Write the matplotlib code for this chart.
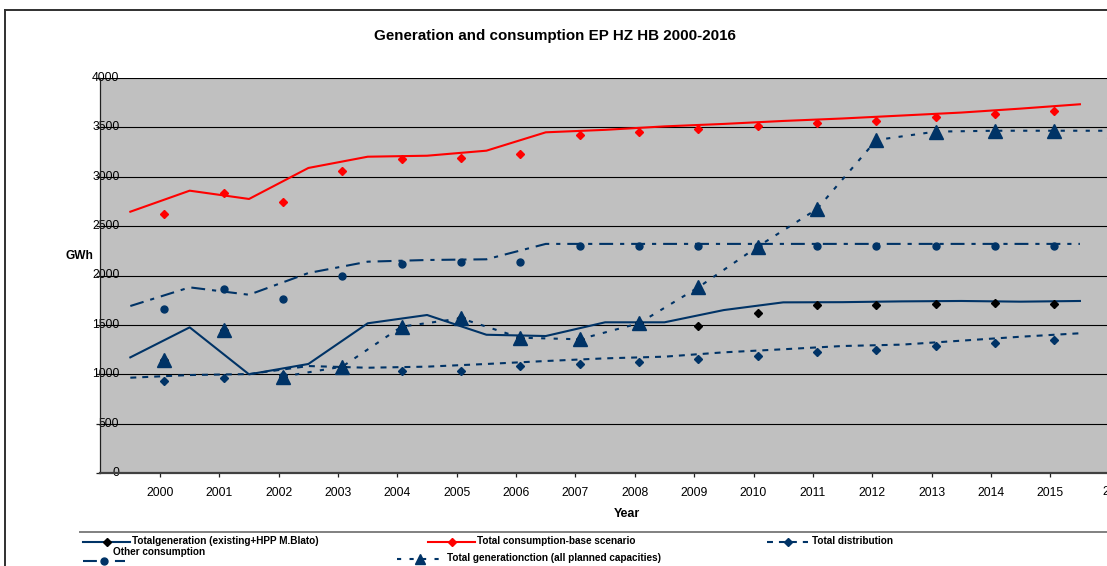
import matplotlib
matplotlib.use("Agg")
import matplotlib.pyplot as plt
import numpy as np

plt.rcParams['font.family'] = ['Liberation Sans', 'DejaVu Sans']
plt.rcParams['lines.scale_dashes'] = False

# ---------------- data ----------------
years = [2000, 2001, 2002, 2003, 2004, 2005, 2006, 2007, 2008,
         2009, 2010, 2011, 2012, 2013, 2014, 2015, 2016]

# line traces (vertices sit half a category left of each year)
gen_line = [1171, 1475, 999, 1104, 1516, 1600, 1400, 1387, 1526,
            1526, 1650, 1728, 1730, 1738, 1742, 1735, 1742]
cons_line = [2646, 2859, 2775, 3089, 3203, 3213, 3264, 3450, 3475,
             3510, 3535, 3565, 3590, 3620, 3650, 3690, 3734]
dist_line = [965, 992, 1002, 1083, 1066, 1077, 1104, 1134, 1161,
             1178, 1222, 1253, 1286, 1300, 1340, 1380, 1415]
other_line = [1691, 1880, 1805, 2025, 2140, 2157, 2164, 2320, 2320,
              2320, 2320, 2320, 2320, 2320, 2320, 2320, 2320]

# point values per year (2000-2015 visible)
gen_pts = [1144, 1448, 976, 1077, 1482, 1566, 1370, 1354, 1516,
           1492, 1617, 1698, 1698, 1708, 1718, 1708]
cons_pts = [2620, 2832, 2747, 3061, 3180, 3190, 3227, 3423, 3450,
            3484, 3514, 3541, 3568, 3605, 3632, 3669]
dist_pts = [935, 965, 990, 1050, 1036, 1036, 1087, 1100, 1127,
            1158, 1188, 1222, 1249, 1286, 1313, 1350]
other_pts = [1664, 1860, 1765, 1998, 2120, 2133, 2133, 2302, 2302,
             2302, 2302, 2302, 2302, 2302, 2302, 2302]
planned_pts = [1144, 1448, 976, 1077, 1482, 1566, 1370, 1354, 1516,
               1880, 2292, 2673, 3372, 3457, 3466, 3466, 3466]
planned_line_start = 2

title = "Generation and consumption EP HZ HB 2000-2016"
ylabel = "GWh"
xlabel = "Year"
legend_labels = ["Totalgeneration (existing+HPP M.Blato)",
                 "Total consumption-base scenario",
                 "Total distribution",
                 "Other consumption",
                 "Total generationction (all planned capacities)"]

NAVY = '#003366'
RED = '#FF0000'
BG = '#C0C0C0'

W, H = 1107, 566
fig = plt.figure(figsize=(W / 100, H / 100), dpi=100)

# axes geometry in pixels
L_px, T_px, B_px = 100, 78, 473
x0_px, step_px = 160.0, 59.35
xmin = (L_px - x0_px) / step_px
xmax = (W - x0_px) / step_px
ax = fig.add_axes([L_px / W, 1 - B_px / H, (W - L_px) / W, (B_px - T_px) / H])
ax.set_facecolor(BG)
ax.set_xlim(xmin, xmax)
ax.set_ylim(0, 4000)

n = len(years)
xi = np.arange(n)
x_line = xi - 0.5
mo = 0.07  # marker offset
x_pts = np.arange(len(gen_pts)) + mo

lw = 1.5
# lines
ax.plot(x_line, gen_line, color=NAVY, lw=lw, zorder=3)
ax.plot(x_line, cons_line, color=RED, lw=lw, zorder=3)
ax.plot(x_line, dist_line, color=NAVY, lw=lw, dashes=(4.3, 4.3), zorder=3)
ax.plot(x_line, other_line, color=NAVY, lw=lw, dashes=(10, 5, 3, 5), zorder=3)
xp = np.arange(len(planned_pts)) + mo
ax.plot(xp[planned_line_start:], planned_pts[planned_line_start:], color=NAVY,
        lw=lw, dashes=(3, 6), zorder=3)

# markers
ax.plot(x_pts, gen_pts, ls='none', marker='D', ms=4.5, color='black', zorder=4)
ax.plot(np.arange(len(cons_pts)) + mo, cons_pts, ls='none', marker='D', ms=4.5,
        color=RED, zorder=4)
ax.plot(np.arange(len(dist_pts)) + mo, dist_pts, ls='none', marker='D', ms=4.5,
        color=NAVY, zorder=4)
ax.plot(np.arange(len(other_pts)) + mo, other_pts, ls='none', marker='o', ms=5,
        color=NAVY, zorder=4)
ax.plot(xp, planned_pts, ls='none', marker='^', ms=10, color=NAVY, zorder=5)

# grid & axes styling
ax.set_yticks(np.arange(0, 4001, 500))
ax.yaxis.grid(True, color='black', lw=0.8)
ax.set_axisbelow(True)
for s in ['top', 'right']:
    ax.spines[s].set_visible(False)
ax.spines['left'].set_color('#202020')
ax.spines['left'].set_linewidth(0.9)
ax.spines['bottom'].set_color('#404040')
ax.spines['bottom'].set_linewidth(1.6)

ax.set_xticks(xi[:16])
ax.set_xticklabels([str(y) for y in years[:16]])
ax.tick_params(axis='x', direction='out', length=3, width=0.9, color='#202020',
               pad=7, labelsize=8.7)
ax.tick_params(axis='y', direction='out', length=3, width=0.9, color='#202020',
               pad=-17, labelsize=8.7)
for lab in ax.get_yticklabels():
    lab.set_va('center')
ax.text(16.1, -(3 + 9.7) / (B_px - T_px), str(years[16]),
        transform=ax.get_xaxis_transform(),
        ha='center', va='top', fontsize=8.7, clip_on=False)

# overlay for text and frame
ov = fig.add_axes([0, 0, 1, 1], zorder=10)
ov.set_xlim(0, W)
ov.set_ylim(H, 0)
ov.axis('off')
ov.patch.set_alpha(0)

ov.text(555, 36, title, ha='center', va='center', fontsize=10.9, fontweight='bold')
ov.text(79, 256, ylabel, ha='center', va='center', fontsize=8.6, fontweight='bold')
ov.text(627, 514, xlabel, ha='center', va='center', fontsize=9, fontweight='bold')

# chart frame
ov.plot([4.5, 4.5], [H, 9.5], color='#303030', lw=1.4)
ov.plot([4.5, W], [9.5, 9.5], color='#303030', lw=1.4)
# legend frame
ov.plot([80, W], [531.5, 531.5], color='#808080', lw=1.4)

fs_leg = 7.2
def sample(xa, xb, y, color, dashes=None, marker='D', ms=4.5, mcolor=None):
    kw = dict(color=color, lw=lw)
    if dashes:
        kw['dashes'] = dashes
    ov.plot([xa, xb], [y, y], **kw)
    ov.plot([(xa + xb) / 2], [y], marker=marker, ms=ms, ls='none',
            color=mcolor or color)

sample(83, 130, 541.5, NAVY, mcolor='black')
ov.text(132, 541.5, legend_labels[0], ha='left', va='center', fontsize=fs_leg, fontweight='bold')
sample(428, 475, 541.5, RED)
ov.text(477, 541.5, legend_labels[1], ha='left', va='center', fontsize=fs_leg, fontweight='bold')
sample(767, 808, 541.5, NAVY, dashes=(4.3, 4.3))
ov.text(812, 541.5, legend_labels[2], ha='left', va='center', fontsize=fs_leg, fontweight='bold')
ov.text(113, 552, legend_labels[3], ha='left', va='center', fontsize=fs_leg, fontweight='bold')
sample(83, 125, 561, NAVY, dashes=(10, 5, 3, 5), marker='o', ms=5)
sample(397, 442, 559, NAVY, dashes=(3, 6), marker='^', ms=7)
ov.text(447, 558, legend_labels[4], ha='left', va='center', fontsize=fs_leg, fontweight='bold')

fig.savefig('out.png', dpi=100)
